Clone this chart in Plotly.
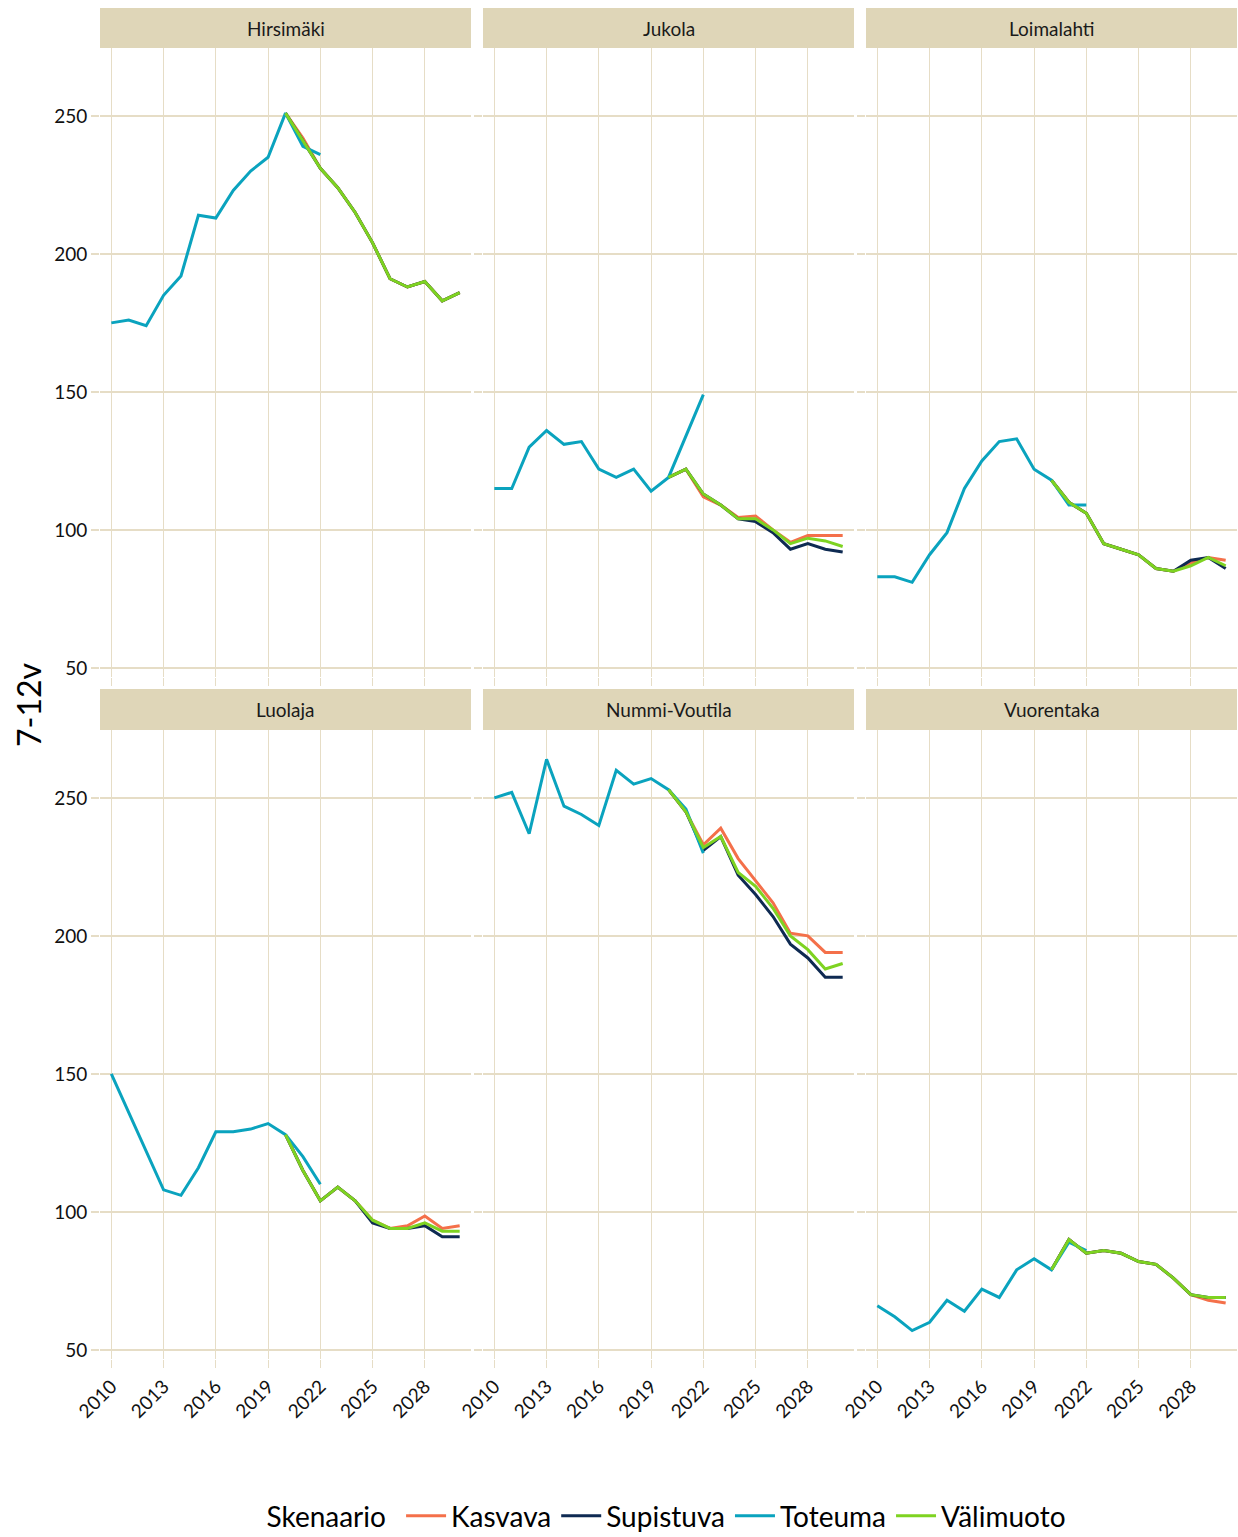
import plotly.graph_objects as go

W, H = 1238, 1537

regions = ["Hirsimäki", "Jukola", "Loimalahti", "Luolaja", "Nummi-Voutila", "Vuorentaka"]
series_names = ["Kasvava", "Supistuva", "Toteuma", "Välimuoto"]
colors = {"Kasvava": "#F4704A", "Supistuva": "#0E2A52", "Toteuma": "#0AA3BE", "Välimuoto": "#7ED321"}

# Toteuma (actual) 2010..2022
toteuma_years = list(range(2010, 2023))
toteuma = {
    "Hirsimäki":     [175, 176, 174, 185, 192, 214, 213, 223, 230, 235, 251, 239, 236],
    "Jukola":        [115, 115, 130, 136, 131, 132, 122, 119, 122, 114, 119, 134, 149],
    "Loimalahti":    [83, 83, 81, 91, 99, 115, 125, 132, 133, 122, 118, 109, 109],
    "Luolaja":       [150, 136, 122, 108, 106, 116, 129, 129, 130, 132, 128, 120, 110],
    "Nummi-Voutila": [250, 252, 237, 264, 247, 244, 240, 260, 255, 257, 253, 246, 230],
    "Vuorentaka":    [66, 62, 57, 60, 68, 64, 72, 69, 79, 83, 79, 89, 86],
}

# Scenarios 2020..2030
scen_years = list(range(2020, 2031))
kasvava = {
    "Hirsimäki":     [251, 242, 231, 224, 215, 204, 191, 188, 190, 183, 186],
    "Jukola":        [119, 122, 112, 109, 104.5, 105, 100, 95.5, 98, 98, 98],
    "Loimalahti":    [118, 110, 106, 95, 93, 91, 86, 85, 88, 90, 89],
    "Luolaja":       [128, 115, 104, 109, 104, 97, 94, 95, 98.5, 94, 95],
    "Nummi-Voutila": [253, 245, 233, 239, 228, 220, 212, 201, 200, 194, 194],
    "Vuorentaka":    [79, 90, 85, 86, 85, 82, 81, 76, 70, 68, 67],
}
supistuva = {
    "Hirsimäki":     [251, 241, 231, 224, 215, 204, 191, 188, 190, 183, 186],
    "Jukola":        [119, 122, 113, 109, 104, 103, 99, 93, 95, 93, 92],
    "Loimalahti":    [118, 110, 106, 95, 93, 91, 86, 85, 89, 90, 86],
    "Luolaja":       [128, 115, 104, 109, 104, 96, 94, 94, 95, 91, 91],
    "Nummi-Voutila": [253, 245, 231, 236, 222, 215, 207, 197, 192, 185, 185],
    "Vuorentaka":    [79, 90, 85, 86, 85, 82, 81, 76, 70, 69, 69],
}
valimuoto = {
    "Hirsimäki":     [251, 241, 231, 224, 215, 204, 191, 188, 190, 183, 186],
    "Jukola":        [119, 122, 113, 109, 104, 104, 100, 95, 97, 96, 94],
    "Loimalahti":    [118, 110, 106, 95, 93, 91, 86, 85, 87, 90, 87],
    "Luolaja":       [128, 115, 104, 109, 104, 97, 94, 94, 96, 93, 93],
    "Nummi-Voutila": [253, 245, 232, 236, 223, 218, 210, 200, 195, 188, 190],
    "Vuorentaka":    [79, 90, 85, 86, 85, 82, 81, 76, 70, 69, 69],
}

x_ticks = [2010, 2013, 2016, 2019, 2022, 2025, 2028]
y_ticks = [50, 100, 150, 200, 250]

FONT = "Lato"
GRID = "#E6DDC6"
STRIP = "#DFD6B8"

# target page-pixel layout
col_px = [(100, 471), (483, 854), (866, 1237)]
row_px = [(48, 677), (730, 1359)]
strip_px = [(8, 48), (689, 730)]

def fx(px):
    return px / W

def fy(py):
    return 1 - py / H

fig = go.Figure()
layout_axes = {}
shapes = []
annotations = []

for i, reg in enumerate(regions):
    r, c = divmod(i, 3)
    idx = i + 1
    xa = "x" if idx == 1 else f"x{idx}"
    ya = "y" if idx == 1 else f"y{idx}"
    xkey = "xaxis" if idx == 1 else f"xaxis{idx}"
    ykey = "yaxis" if idx == 1 else f"yaxis{idx}"
    data = {
        "Kasvava": (scen_years, kasvava[reg]),
        "Supistuva": (scen_years, supistuva[reg]),
        "Toteuma": (toteuma_years, toteuma[reg]),
        "Välimuoto": (scen_years, valimuoto[reg]),
    }
    for s in series_names:
        xs, ys = data[s]
        fig.add_trace(go.Scatter(
            x=xs, y=ys, mode="lines", name=s, legendgroup=s,
            showlegend=(i == 0),
            line=dict(color=colors[s], width=3),
            xaxis=xa, yaxis=ya,
        ))
    layout_axes[xkey] = dict(
        domain=[fx(col_px[c][0]), fx(col_px[c][1])],
        anchor=ya, range=[2009.35, 2030.65],
        tickvals=x_ticks, ticktext=[str(t) for t in x_ticks],
        showticklabels=(r == 1), tickangle=-45,
        showgrid=True, gridcolor=GRID, gridwidth=1.2,
        zeroline=False, showline=False,
        ticks="outside", ticklen=8, tickcolor=GRID, tickwidth=1.2,
        tickfont=dict(family=FONT, size=19, color="#111"),
        automargin=False,
    )
    layout_axes[ykey] = dict(
        domain=[fy(row_px[r][1]), fy(row_px[r][0])],
        anchor=xa, range=[46.7, 274.6],
        tickvals=y_ticks, showticklabels=(c == 0),
        showgrid=True, gridcolor=GRID, gridwidth=1.5,
        zeroline=False, showline=False,
        ticks="outside", ticklen=8, tickcolor=GRID, tickwidth=1.5,
        tickfont=dict(family=FONT, size=19, color="#111"),
        automargin=False,
    )
    shapes.append(dict(
        type="rect", xref="paper", yref="paper",
        x0=fx(col_px[c][0]), x1=fx(col_px[c][1]),
        y0=fy(strip_px[r][1]), y1=fy(strip_px[r][0]),
        fillcolor=STRIP, line=dict(width=0), layer="below",
    ))
    annotations.append(dict(
        text=reg, xref="paper", yref="paper",
        x=fx((col_px[c][0] + col_px[c][1]) / 2),
        y=fy((strip_px[r][0] + strip_px[r][1]) / 2),
        xanchor="center", yanchor="middle", showarrow=False,
        font=dict(family=FONT, size=19, color="#1a1a1a"),
    ))

annotations.append(dict(
    text="7-12v", xref="paper", yref="paper",
    x=fx(28), y=fy(705), textangle=-90,
    xanchor="center", yanchor="middle", showarrow=False,
    font=dict(family=FONT, size=32, color="#000"),
))

fig.update_layout(
    width=W, height=H,
    margin=dict(l=0, r=0, t=0, b=0, autoexpand=False),
    paper_bgcolor="white", plot_bgcolor="white",
    shapes=shapes, annotations=annotations,
    legend=dict(
        orientation="h", x=fx(668), xanchor="center",
        y=fy(1516), yanchor="middle",
        title=dict(text="Skenaario ", font=dict(family=FONT, size=28, color="#000")),
        font=dict(family=FONT, size=28, color="#000"),
        itemwidth=40, traceorder="normal",
    ),
    **layout_axes,
)

fig.write_html(
    "out.html",
    config={"displayModeBar": False},
    post_script="document.body.style.margin='0';document.documentElement.style.overflow='hidden';",
)
